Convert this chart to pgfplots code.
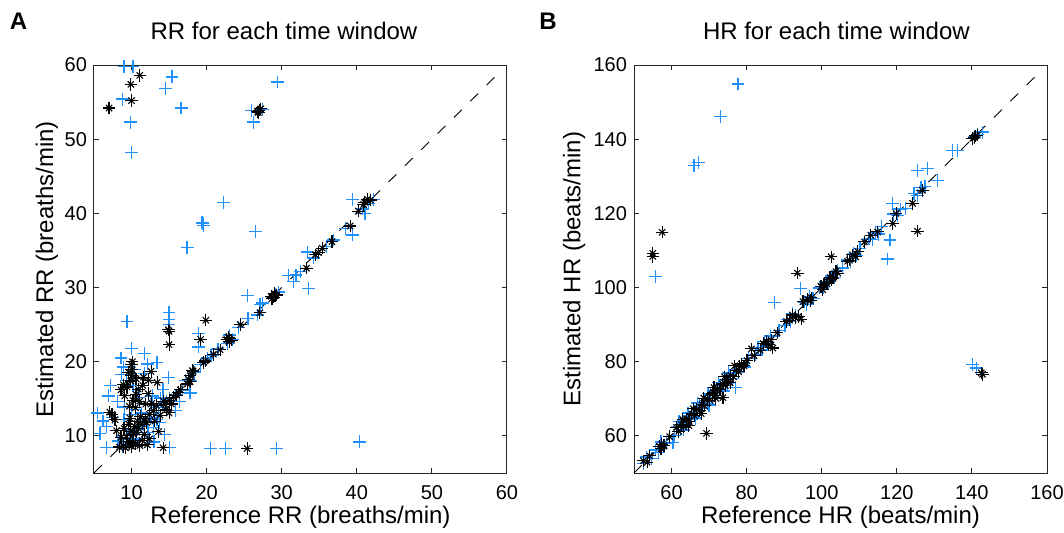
\documentclass[border=0pt]{standalone}
\usepackage{pgfplots}
\pgfplotsset{compat=1.18}
\usepackage{fontspec}
\setmainfont{Liberation Sans}
\definecolor{mblue}{RGB}{30,144,255}

\pgfplotstableread{
x y
9.0 59.8
10.2 59.8
15.4 58.4
14.5 56.8
29.4 57.7
8.8 55.4
9.9 52.3
10.0 48.2
16.6 54.2
26.2 52.3
26.0 53.9
27.4 54.0
22.2 41.5
19.4 38.8
19.6 38.4
19.5 38.6
26.5 37.6
17.4 35.4
39.4 41.9
42.2 41.9
41.1 40.0
41.6 41.3
40.8 40.6
39.4 37.1
38.5 38.0
36.9 36.4
36.0 35.5
33.4 34.8
34.2 34.0
33.6 29.9
31.6 30.8
30.9 31.6
31.9 31.7
32.5 32.2
29.6 29.4
28.8 28.6
29.2 29.1
25.4 28.9
27.4 27.9
27.1 27.7
26.8 26.3
25.5 25.8
24.2 24.6
23.4 23.0
22.8 22.5
23.0 23.6
21.5 21.7
20.6 20.8
20.1 20.5
19.2 19.6
18.4 18.6
17.8 17.4
17.2 17.5
16.8 16.2
17.8 15.8
15.9 15.5
15.1 15.0
14.7 14.6
14.2 14.3
13.6 13.8
13.0 13.2
12.5 12.4
11.9 12.1
11.3 11.4
10.8 10.9
10.3 10.4
9.8 9.6
9.3 9.1
8.8 8.6
20.5 8.3
22.5 8.3
29.3 8.3
40.4 9.2
6.7 8.4
15.1 8.4
9.4 25.4
10.0 21.8
11.7 21.1
13.4 19.9
14.9 17.9
8.7 18.3
6.9 15.4
5.5 13.1
5.8 10.3
6.7 11.3
10.0 12.9
13.4 12.2
13.7 11.8
18.9 23.8
18.9 22.0
15.0 26.6
15.0 25.7
15.0 25.0
11.6 11.5
12.5 14.2
11.0 15.2
10.2 16.8
9.3 17.5
8.1 14.6
9.0 12.2
10.5 13.6
12.8 15.4
14.2 16.3
12.2 10.5
13.0 9.2
9.6 10.8
8.2 9.3
7.5 12.5
15.9 13.4
16.4 14.6
14.4 10.2
11.7 18.4
12.1 19.7
10.4 19.0
7.2 16.8
8.6 20.5
11.3 13.1
12.9 11.1
10.6 9.6
9.1 13.9
13.9 15.1
6.2 12.0
8.9 19.3
}\rrblue

\pgfplotstableread{
x y
11.1 58.6
9.9 57.4
10.0 55.2
7.0 54.2
27.0 53.9
26.8 53.7
27.2 54.1
26.9 53.6
41.4 41.9
41.0 41.5
41.8 41.8
40.9 41.2
40.2 40.3
39.1 38.3
36.7 36.2
35.4 35.3
34.9 34.7
34.5 34.4
33.3 32.6
29.1 28.9
28.9 28.7
29.3 29.0
28.7 28.5
29.0 29.2
28.6 28.8
27.1 26.6
24.5 25.0
23.1 23.1
23.3 22.9
22.9 23.3
23.0 22.7
21.8 21.6
20.9 21.0
19.8 20.1
18.2 18.7
17.6 17.6
17.8 17.3
17.4 17.0
19.9 25.6
19.2 23.0
25.4 8.3
15.0 24.1
15.0 22.3
14.9 24.3
10.0 19.6
10.0 18.1
10.1 18.9
9.9 17.4
8.9 16.9
9.1 15.4
10.9 16.3
12.6 18.7
13.4 17.2
11.1 14.7
7.1 13.2
7.8 12.2
8.0 10.7
8.9 8.6
10.2 9.1
11.1 8.7
10.7 10.5
12.0 11.8
12.4 9.6
14.2 8.4
15.0 13.1
14.2 14.7
15.6 15.2
15.0 14.8
14.5 14.2
17.8 18.1
18.1 18.8
19.6 19.9
22.7 23.0
9.5 9.3
10.3 10.2
10.9 11.0
11.4 11.6
11.8 12.3
12.4 12.9
12.9 13.4
13.3 14.1
9.8 12.4
10.5 13.8
9.2 8.4
8.4 8.5
10.0 8.6
9.6 11.6
8.6 16.2
9.4 16.6
11.6 17.9
12.2 15.7
7.4 12.9
11.7 10.2
13.6 10.6
16.0 15.5
16.5 16.2
9.3 10.0
9.9 10.6
10.4 11.3
10.8 12.0
11.2 12.6
9.0 11.0
9.7 14.0
10.2 14.8
10.6 15.6
11.5 16.8
12.3 17.5
10.1 20.0
9.6 18.6
10.6 17.7
11.4 9.4
12.1 8.8
9.7 8.9
13.1 12.0
13.8 12.8
14.6 13.5
15.3 14.3
16.2 15.9
10.5 8.9
8.6 9.8
11.9 14.3
12.7 14.4
}\rrblack

\pgfplotstableread{
x y
77.7 154.9
73.1 146.1
66.0 132.9
67.1 133.8
55.8 103.0
94.3 99.8
87.5 96.0
60.4 58.2
77.1 73.0
140.1 79.2
141.2 78.3
117.5 107.7
118.2 112.8
125.5 131.6
128.2 132.1
134.8 137.0
136.1 137.0
130.8 128.9
142.8 141.9
140.6 140.8
141.5 141.2
118.9 122.7
122.4 121.3
52.5 52.5
53.4 54.3
54.6 54.0
55.8 56.2
56.5 55.6
57.2 58.4
58.6 58.0
60.8 60.2
61.5 62.6
62.4 61.8
63.1 64.0
63.8 63.2
64.6 65.5
65.2 64.6
66.0 66.6
66.8 66.1
67.5 68.2
68.2 67.4
68.9 69.6
69.5 68.8
70.3 71.1
70.9 70.2
71.6 72.3
72.2 71.5
72.9 73.6
73.6 72.8
74.2 75.0
74.9 74.2
75.6 76.3
76.3 75.5
77.0 77.8
77.8 77.1
78.6 79.3
79.4 78.6
80.5 80.8
82.3 82.0
83.0 83.9
84.1 83.2
84.8 85.5
85.6 84.8
86.3 86.9
88.6 88.4
90.2 89.7
90.8 91.4
91.6 90.8
92.3 92.9
93.1 92.4
95.3 96.1
96.0 95.4
96.8 97.5
97.7 97.0
99.4 99.9
100.3 100.0
101.0 101.6
101.8 101.2
102.6 103.1
103.4 102.8
104.2 104.6
105.6 105.3
106.8 107.4
107.6 107.0
108.4 109.1
109.3 108.7
110.2 110.6
112.6 113.1
113.5 112.9
114.3 114.9
115.2 114.4
116.0 116.5
119.2 119.8
120.1 119.5
121.0 121.2
124.6 125.3
125.5 124.8
126.4 126.9
127.5 127.3
62.0 63.8
64.4 66.2
67.0 68.9
69.7 71.4
72.5 74.4
75.1 77.0
63.2 61.6
66.4 64.8
70.0 68.3
73.8 72.1
}\hrblue

\pgfplotstableread{
x y
55.0 109.2
55.0 108.4
57.5 114.9
93.5 103.9
69.3 60.7
81.3 83.5
94.5 91.5
87.0 83.7
73.7 70.3
142.8 76.6
142.5 77.0
125.5 115.2
102.5 108.3
140.6 140.5
140.2 140.2
141.0 140.9
141.4 141.1
126.8 126.2
124.2 122.7
119.8 120.0
118.9 117.3
114.9 115.0
113.1 114.1
111.4 112.3
109.6 109.7
107.4 107.4
104.3 103.9
102.5 102.1
100.3 99.4
97.2 97.2
95.0 96.2
52.5 53.3
53.5 52.9
54.2 54.6
56.8 57.2
57.4 57.8
58.0 57.4
57.2 56.6
59.5 59.8
61.3 62.3
61.9 61.2
62.6 63.1
63.3 62.4
64.0 64.6
64.7 63.9
65.4 65.9
66.1 65.5
66.7 67.2
67.4 66.8
68.1 68.5
68.8 68.1
69.5 70.0
70.2 69.6
70.8 71.3
71.1 71.7
71.5 70.9
72.3 72.7
72.9 72.4
73.6 74.0
74.3 73.6
74.6 75.2
75.0 74.7
75.8 76.3
76.5 75.9
77.2 77.7
77.9 77.3
78.2 78.8
78.6 79.4
79.3 78.9
80.1 80.3
82.0 81.6
83.6 83.1
84.4 84.9
85.2 85.5
85.8 84.6
86.5 85.9
88.1 87.8
90.6 90.9
91.4 91.2
92.2 92.6
92.9 91.9
93.8 92.2
96.3 96.8
97.0 96.5
99.8 100.3
100.6 100.9
101.4 101.0
102.2 102.7
103.0 102.5
103.8 104.3
106.9 107.1
108.2 108.8
109.0 108.3
63.0 64.4
65.8 67.3
68.6 70.2
71.3 73.0
74.1 75.9
76.8 78.9
64.6 62.8
67.9 66.0
71.8 70.1
75.6 74.3
}\hrblack

\pgfplotsset{
  myax/.style={
    scale only axis, width=206.5pt, height=204pt, anchor=south west,
    clip=false,
    axis line style={line width=0.5pt, black!85},
    tick align=inside, major tick length=2.5pt,
    tick style={line width=0.5pt, black!85},
    ticklabel style={font=\fontsize{10}{12}\selectfont},
    /pgf/number format/assume math mode=true,
    xticklabel style={yshift=-2.5pt},
    label style={font=\fontsize{12}{14}\selectfont},
    title style={font=\fontsize{12}{14}\selectfont, anchor=base},
    xlabel style={at={(axis description cs:0.5,-0.109)}, anchor=center},
  },
  bluep/.style={only marks, mark=+, color=mblue, mark size=3.2pt, mark options={line width=0.65pt}},
  blkp/.style={only marks, mark=+, color=black, mark size=3.1pt, mark options={line width=0.55pt}},
  blkx/.style={only marks, mark=x, color=black, mark size=2.2pt, mark options={line width=0.55pt}},
  diag/.style={black, line width=0.45pt, dash pattern=on 5.5pt off 6pt},
}

\begin{document}
\begin{tikzpicture}[x=1pt,y=1pt]
\path[use as bounding box] (0,0) rectangle (532,266);

\begin{axis}[myax, at={(47pt,29.5pt)},
  xmin=5, xmax=60, ymin=5, ymax=60,
  xtick={10,20,...,60}, ytick={10,20,...,60},
  title={RR for each time window},
  title style={at={(axis description cs:0.46,1.032)}},
  xlabel={Reference RR (breaths/min)},
  ylabel={Estimated RR (breaths/min)},
  ylabel style={at={(axis description cs:-0.114,0.5)}, anchor=center},
]
\addplot[bluep] table {\rrblue};
\addplot[blkp] table {\rrblack};
\addplot[blkx] table {\rrblack};
\addplot[diag] coordinates {(5,5) (58.6,58.6)};
\end{axis}

\begin{axis}[myax, at={(317pt,29.5pt)},
  xmin=50, xmax=160, ymin=50, ymax=160,
  xtick={60,80,...,160}, ytick={60,80,...,160},
  title={HR for each time window},
  title style={at={(axis description cs:0.49,1.032)}},
  xlabel={Reference HR (beats/min)},
  ylabel={Estimated HR (beats/min)},
  ylabel style={at={(axis description cs:-0.145,0.5)}, anchor=center},
]
\addplot[bluep] table {\hrblue};
\addplot[blkp] table {\hrblack};
\addplot[blkx] table {\hrblack};
\addplot[diag] coordinates {(50,50) (157,157)};
\end{axis}

\node[font=\bfseries\fontsize{12}{14}\selectfont] at (9.25pt,255.25pt) {A};
\node[font=\bfseries\fontsize{12}{14}\selectfont] at (274pt,255.5pt) {B};
\end{tikzpicture}
\end{document}
